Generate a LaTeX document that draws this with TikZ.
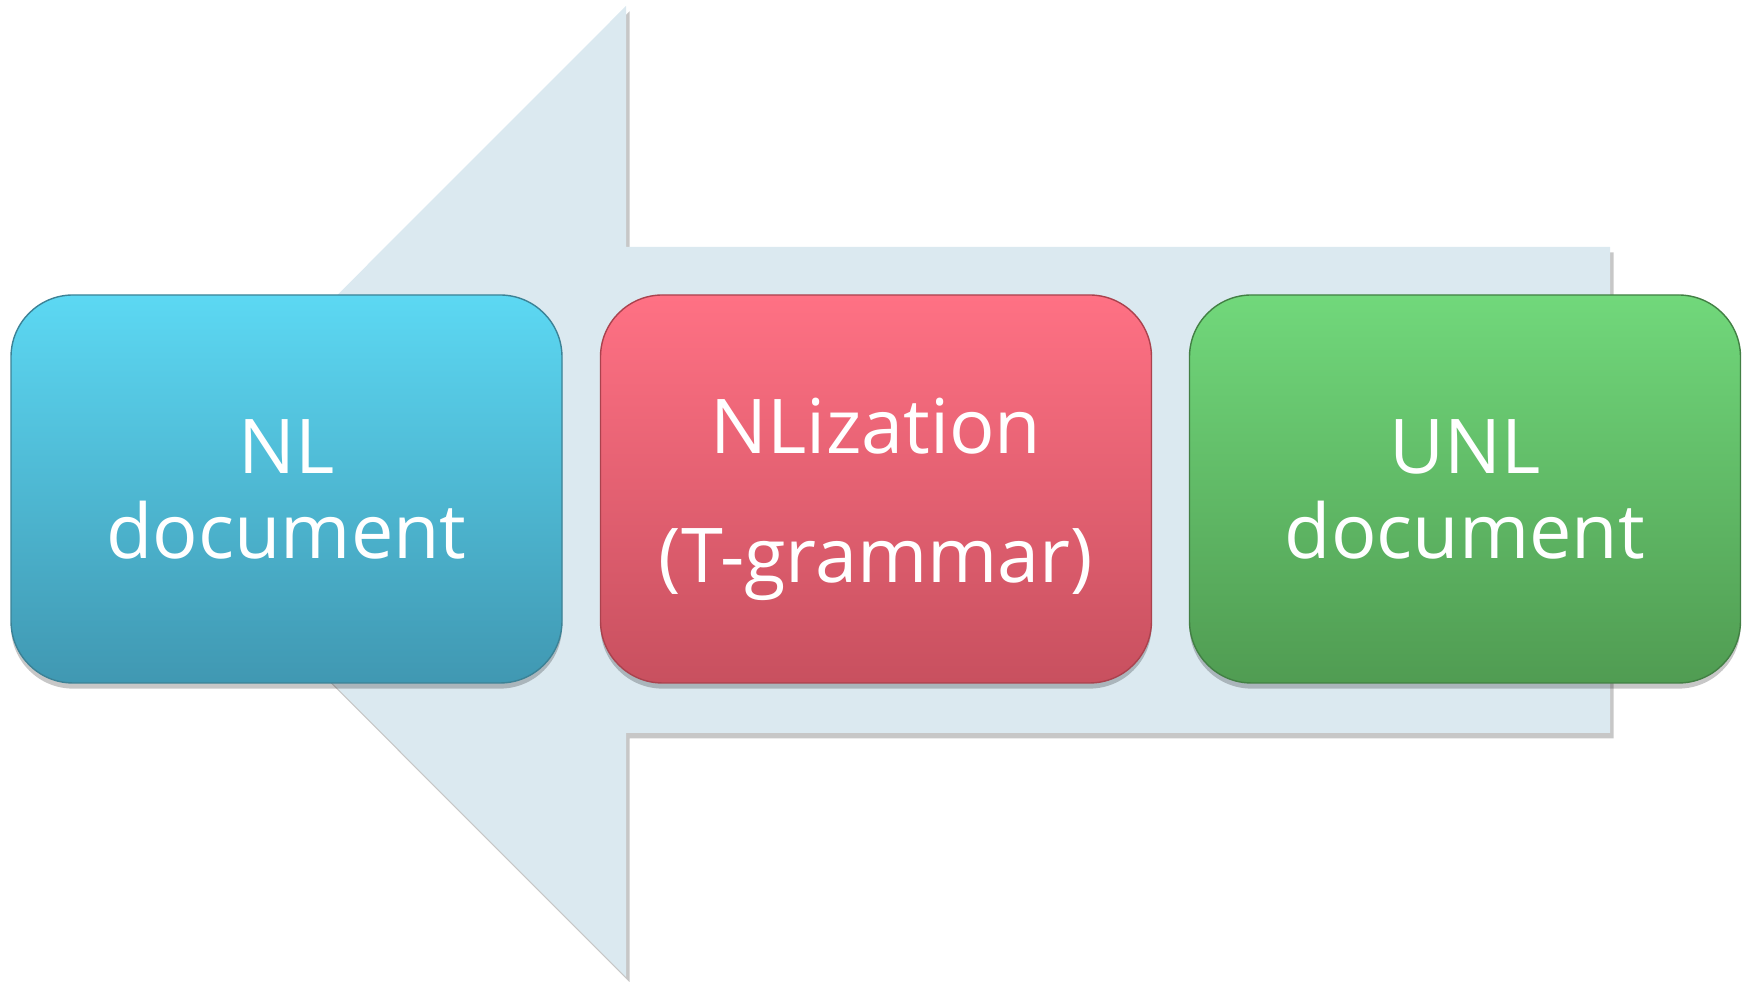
\documentclass[tikz,border=0pt]{standalone}
\usepackage{fontspec}
\setmainfont{Open Sans}
\usetikzlibrary{shadows}
\definecolor{arrowfill}{RGB}{219,233,240}
\definecolor{bluetop}{RGB}{92,216,243}
\definecolor{bluebot}{RGB}{64,152,178}
\definecolor{blueedge}{RGB}{60,130,150}
\definecolor{redtop}{RGB}{255,113,132}
\definecolor{redbot}{RGB}{200,80,95}
\definecolor{rededge}{RGB}{170,66,78}
\definecolor{greentop}{RGB}{113,216,123}
\definecolor{greenbot}{RGB}{80,156,82}
\definecolor{greenedge}{RGB}{66,128,68}
\tikzset{
  stagebox/.style={rounded corners=0.62cm, minimum width=5.51cm, minimum height=3.88cm,
    align=center, text=white, line width=0.4pt,
    font=\fontsize{21.5}{24.2}\selectfont,
    drop shadow={shadow xshift=0pt, shadow yshift=-1.6pt, opacity=0.22, fill=black}},
  stagetext/.style={align=center, text=white, font=\fontsize{21.5}{24.2}\selectfont},
  arrowshape/.style={fill=arrowfill,
    drop shadow={shadow xshift=1pt, shadow yshift=-1.5pt, opacity=0.22, fill=black}}
}
\begin{document}
\begin{tikzpicture}
\useasboundingbox (0,0) rectangle (17.51,9.82);
% big arrow pointing left (coordinates in 0.01 cm, y flipped)
\coordinate (tip) at (1.41,4.905);
\coordinate (ht) at (6.26,9.76);
\coordinate (hts) at (6.26,7.35);
\coordinate (st) at (16.10,7.35);
\coordinate (sb) at (16.10,2.49);
\coordinate (hbs) at (6.26,2.49);
\coordinate (hb) at (6.26,0.05);
\path[arrowshape] (tip) -- (ht) -- (hts) -- (st) -- (sb) -- (hbs) -- (hb) -- cycle;
% boxes
\node[stagebox, draw=blueedge, top color=bluetop, bottom color=bluebot] (nl) at (2.865,4.93) {NL\\document};
\node[stagebox, draw=rededge, top color=redtop, bottom color=redbot] (nlz) at (8.76,4.93) {};
\node[stagetext] (nlzlabel) at ([yshift=-0.1cm]nlz.center) {NLization\\[12.5pt](T-grammar)};
\node[stagebox, draw=greenedge, top color=greentop, bottom color=greenbot] (unl) at (14.65,4.93) {UNL\\document};
\end{tikzpicture}
\end{document}
